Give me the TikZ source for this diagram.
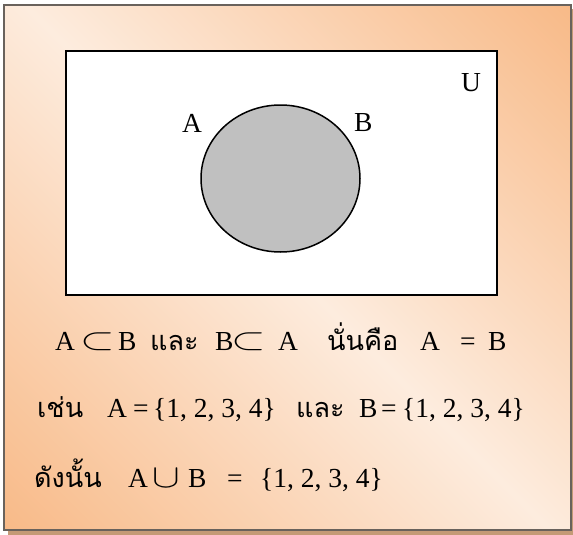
\documentclass[tikz,border=0pt]{standalone}
\usepackage{fontspec}
\usepackage{graphicx}
\usetikzlibrary{shapes.geometric}
\setmainfont{Liberation Serif}
\newfontfamily\thaifont[Script=Thai]{Loma}
\definecolor{orangec}{RGB}{248,186,136}
\definecolor{lightc}{RGB}{253,236,222}
\definecolor{shadowc}{RGB}{196,154,118}
\definecolor{bordc}{RGB}{105,98,92}
\definecolor{setgray}{RGB}{192,192,192}
\pgfdeclareverticalshading{panelshade}{100bp}{color(0bp)=(orangec); color(14.6bp)=(orangec); color(50bp)=(lightc); color(85.4bp)=(orangec); color(100bp)=(orangec)}
\newcommand{\bigsubset}{\fontsize{10}{12}\selectfont\raisebox{1pt}{\scalebox{4.44}[3.1]{$\subset$}}}
\newcommand{\bigcupsym}{\fontsize{10}{12}\selectfont\scalebox{4.14}[3.3]{$\cup$}}
\begin{document}
\begin{tikzpicture}[x=1pt,y=-1pt,
  txt/.style={inner sep=0pt, anchor=base west, font=\fontsize{27.5}{30}\selectfont},
  th/.style={inner sep=0pt, anchor=base west, font=\fontsize{27}{30}\selectfont\thaifont},
  sym/.style={inner sep=0pt, anchor=base west}]
\useasboundingbox (0,0) rectangle (573,535);
% shadow and panel
\fill[shadowc] (8,9) rectangle (576,536);
\shade[shading=panelshade, shading angle=-45] (4,5) rectangle (571,530);
\draw[bordc, line width=2pt] (4,5) rectangle (571,530);
% universe
\node[draw=black, line width=1.6pt, fill=white, inner sep=0pt, minimum width=431pt, minimum height=244pt, anchor=north west] (univ) at (65,50) {};
\node[txt] (lu) at (461,92) {U};
% set A = B
\node[draw=black, line width=1.5pt, fill=setgray, ellipse, inner sep=0pt, minimum width=159pt, minimum height=147pt] (setab) at (280.5,178.5) {};
\node[txt] (la) at (182,132) {A};
\node[txt] (lb) at (354,131) {B};
% line 1
\node[txt] (l1a) at (55,350) {A};
\node[sym] (l1s) at (80,350) {\bigsubset};
\node[txt] (l1b) at (118,350) {B};
\node[th] (l1and) at (150,350) {และ};
\node[txt] (l1b2) at (215,350) {B};
\node[sym] (l1s2) at (231,350) {\bigsubset};
\node[txt] (l1a2) at (278,350) {A};
\node[th] (l1th) at (327,350) {นั่นคือ};
\node[txt] (l1a3) at (420,350) {A};
\node[txt] (l1eq) at (460,350) {=};
\node[txt] (l1b3) at (488,350) {B};
% line 2
\node[th] (l2eg) at (37,417) {เช่น};
\node[txt] (l2a) at (107,417) {A};
\node[txt] (l2eq) at (133,417) {=};
\node[txt] (l2s) at (153,417) {\{1, 2, 3, 4\}};
\node[th] (l2and) at (296,417) {และ};
\node[txt] (l2b) at (359,417) {B};
\node[txt] (l2eq2) at (381,417) {=};
\node[txt] (l2s2) at (402,417) {\{1, 2, 3, 4\}};
% line 3
\node[th] (l3so) at (34,487) {ดังนั้น};
\node[txt] (l3a) at (128,487) {A};
\node[sym] (l3u) at (152.7,487) {\bigcupsym};
\node[txt] (l3b) at (188,487) {B};
\node[txt] (l3eq) at (227,487) {=};
\node[txt] (l3s) at (260,487) {\{1, 2, 3, 4\}};
\end{tikzpicture}
\end{document}
